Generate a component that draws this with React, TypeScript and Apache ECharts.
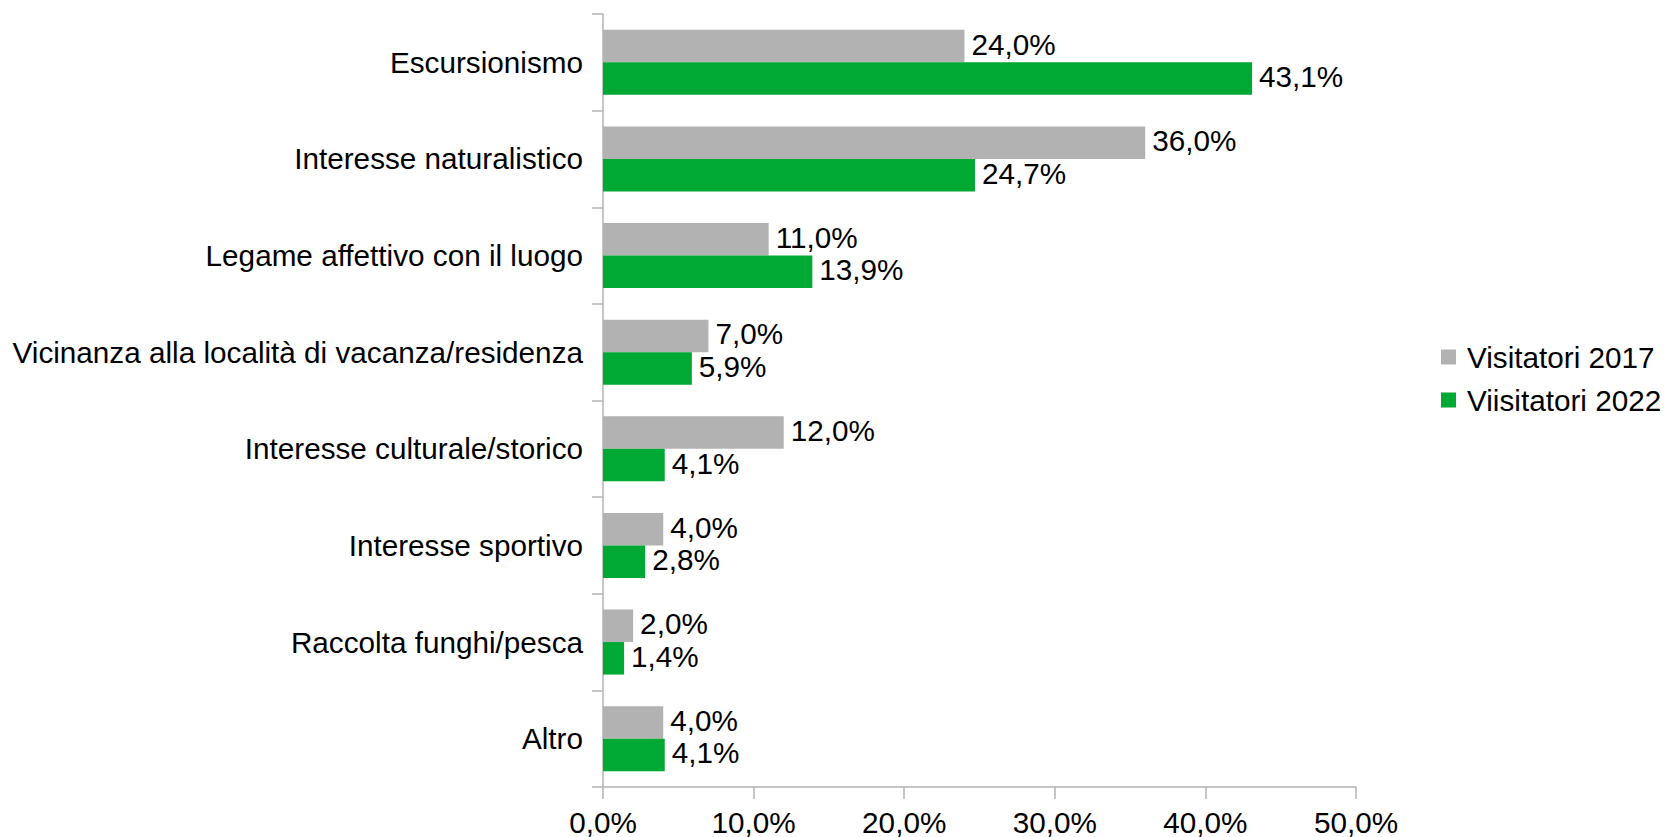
import React, { useEffect, useRef } from "react";
import * as echarts from "echarts";

const categories = [
  "Escursionismo",
  "Interesse naturalistico",
  "Legame affettivo con il luogo",
  "Vicinanza alla località di vacanza/residenza",
  "Interesse culturale/storico",
  "Interesse sportivo",
  "Raccolta funghi/pesca",
  "Altro",
];
const visitatori2017 = [24.0, 36.0, 11.0, 7.0, 12.0, 4.0, 2.0, 4.0];
const visitatori2022 = [43.1, 24.7, 13.9, 5.9, 4.1, 2.8, 1.4, 4.1];
const seriesNames = ["Visitatori 2017", "Viisitatori 2022"];
const xTicks = { min: 0, max: 50, interval: 10 };

const FONT = "'Liberation Sans', Arial, sans-serif";
const FS = 29.7;
const fmt = (v: number) => v.toFixed(1).replace(".", ",") + "%";

export default function App() {
  const ref = useRef<HTMLDivElement>(null);
  useEffect(() => {
    if (!ref.current) return;
    const chart = echarts.init(ref.current, undefined, { renderer: "svg" });
    const barLabel = {
      show: true,
      position: "right",
      distance: 7,
      offset: [0, -2],
      fontSize: FS,
      color: "#000",
      fontFamily: FONT,
      formatter: (p: any) => fmt(p.value),
    };
    chart.setOption({
      animation: false,
      textStyle: { fontFamily: FONT },
      grid: { left: 603, right: 309, top: 14, bottom: 50, containLabel: false },
      legend: {
        orient: "vertical",
        left: 1436,
        top: 337,
        itemWidth: 15,
        itemHeight: 15,
        itemGap: 13,
        icon: "rect",
        textStyle: { fontSize: FS, color: "#000", fontFamily: FONT, padding: [0, 0, 0, 6] },
        data: seriesNames,
      },
      xAxis: {
        type: "value",
        min: xTicks.min,
        max: xTicks.max,
        interval: xTicks.interval,
        axisLine: { show: true, lineStyle: { color: "#b3b3b3", width: 1.5 } },
        axisTick: { show: true, length: 12, lineStyle: { color: "#b3b3b3", width: 1.5 } },
        splitLine: { show: false },
        axisLabel: {
          fontSize: FS,
          color: "#000",
          fontFamily: FONT,
          margin: 20,
          formatter: (v: number) => fmt(v),
        },
      },
      yAxis: {
        type: "category",
        inverse: true,
        data: categories,
        axisLine: { show: true, lineStyle: { color: "#b3b3b3", width: 1.5 } },
        axisTick: { show: true, length: 11, lineStyle: { color: "#b3b3b3", width: 1.5 } },
        axisLabel: {
          fontSize: FS,
          color: "#000",
          fontFamily: FONT,
          margin: 20,
        },
        splitLine: { show: false },
      },
      series: [
        {
          name: seriesNames[0],
          type: "bar",
          data: visitatori2017,
          barGap: "0%",
          barCategoryGap: "32.7%",
          itemStyle: { color: "#b2b2b2" },
          label: barLabel,
        },
        {
          name: seriesNames[1],
          type: "bar",
          data: visitatori2022,
          barGap: "0%",
          barCategoryGap: "32.7%",
          itemStyle: { color: "#00a933" },
          label: barLabel,
        },
      ],
    });
    return () => chart.dispose();
  }, []);
  return (
    <div
      ref={ref}
      style={{ position: "fixed", left: 0, top: 0, width: 1665, height: 837, background: "#fff" }}
    />
  );
}
